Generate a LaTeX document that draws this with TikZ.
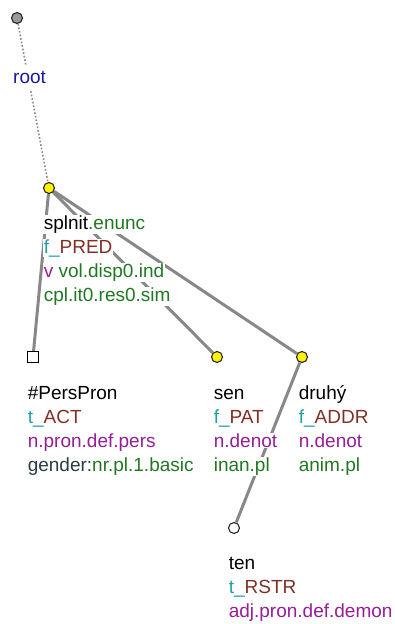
\documentclass[tikz,border=0pt]{standalone}
\usepackage{fontspec}
\setmainfont{Liberation Sans}
\usepackage{xcolor}
\usepackage{tikz}
\usetikzlibrary{
  shapes.geometric,
  arrows.meta,
  backgrounds
}
\definecolor{RootBlue}{RGB}{24, 24, 160}
\definecolor{FunTeal}{RGB}{32, 160, 160}
\definecolor{FunBrown}{RGB}{128, 48, 36}
\definecolor{SemPurple}{RGB}{150, 30, 150}
\definecolor{GramGreen}{RGB}{34, 120, 34}
\definecolor{GramSlate}{RGB}{40, 62, 62}
\definecolor{EdgeGray}{RGB}{136, 136, 136}
\tikzset{
    tnode/.style={circle, draw=black!85, line width=1.1pt, fill=yellow, minimum size=11pt, inner sep=0pt},
    rootnode/.style={tnode, fill=black!40},
    plainnode/.style={tnode, fill=white},
    gennode/.style={rectangle, draw=black, line width=1pt, fill=white, minimum size=10.5pt, inner sep=0pt},
    row/.style={anchor=base west, fill=white, inner sep=0.6pt, font=\fontsize{19}{23}\selectfont},
    edge/.style={EdgeGray, line width=3pt},
    rootedge/.style={EdgeGray, line width=1.6pt, dotted}
}

\begin{document}
\begin{tikzpicture}[x=1pt, y=-1pt]
            \useasboundingbox (0,0) rectangle (394,624);

            % tree nodes
            \node[rootnode] (root) at (17,18) {};
            \node[tnode] (splnit) at (49,188) {};
            \node[gennode] (perspron) at (33,357) {};
            \node[tnode] (sen) at (217,357) {};
            \node[tnode] (druhy) at (302,357) {};
            \node[plainnode] (ten) at (234,528) {};

            % labels
            \node[row, inner xsep=1pt, inner ysep=6pt, text=RootBlue] (rootlbl) at (12,83) {root};

            \node[row] (splnitA) at (43,229) {splnit\textcolor{GramGreen}{.enunc}};
            \node[row] (splnitB) at (43,253) {\textcolor{FunTeal}{f\_}\textcolor{FunBrown}{PRED}};
            \node[row] (splnitC) at (43,277) {\textcolor{SemPurple}{v} \textcolor{GramGreen}{vol.disp0.ind}};
            \node[row, text=GramGreen] (splnitD) at (43,301) {cpl.it0.res0.sim};

            \node[row] (persA) at (27,399) {\#PersPron};
            \node[row] (persB) at (27,423) {\textcolor{FunTeal}{t\_}\textcolor{FunBrown}{ACT}};
            \node[row, text=SemPurple] (persC) at (27,447) {n.pron.def.pers};
            \node[row] (persD) at (27,471) {\textcolor{GramSlate}{gender:}\textcolor{GramGreen}{nr.pl.1.basic}};

            \node[row] (senA) at (213,399) {sen};
            \node[row] (senB) at (213,423) {\textcolor{FunTeal}{f\_}\textcolor{FunBrown}{PAT}};
            \node[row, text=SemPurple] (senC) at (213,447) {n.denot};
            \node[row, text=GramGreen] (senD) at (213,471) {inan.pl};

            \node[row] (druhyA) at (298,399) {druhý};
            \node[row] (druhyB) at (298,423) {\textcolor{FunTeal}{f\_}\textcolor{FunBrown}{ADDR}};
            \node[row, text=SemPurple] (druhyC) at (298,447) {n.denot};
            \node[row, text=GramGreen] (druhyD) at (298,471) {anim.pl};

            \node[row] (tenA) at (228,569) {ten};
            \node[row] (tenB) at (228,593) {\textcolor{FunTeal}{t\_}\textcolor{FunBrown}{RSTR}};
            \node[row, text=SemPurple] (tenC) at (228,617) {adj.pron.def.demon};

            % edges behind the labels
            \begin{scope}[on background layer]
                \draw[rootedge] (root) -- (splnit);
                \draw[edge] (splnit) -- (perspron);
                \draw[edge] (splnit) -- (sen);
                \draw[edge] (splnit) -- (druhy);
                \draw[edge] (druhy) -- (ten);
            \end{scope}
        \end{tikzpicture}
\end{document}
